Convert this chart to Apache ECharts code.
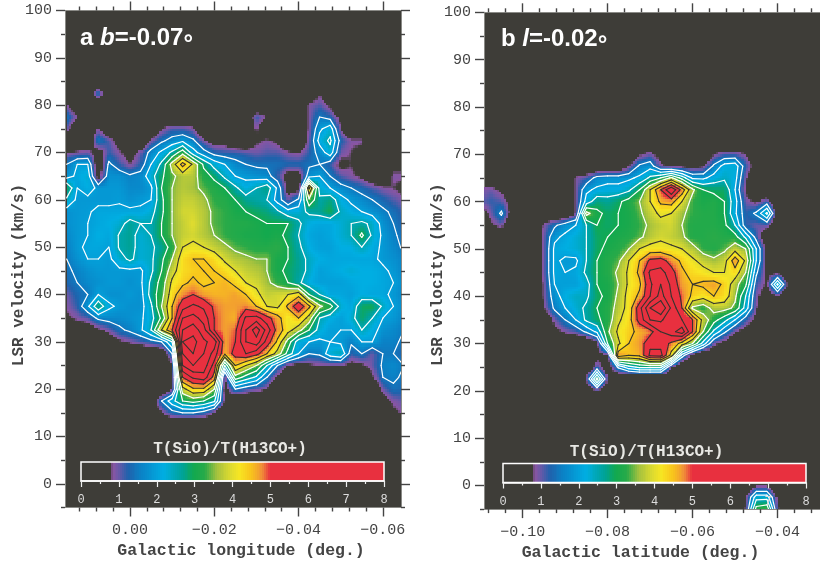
<!DOCTYPE html>
<html><head><meta charset="utf-8">
<style>html,body{margin:0;padding:0;background:#fff}#c{width:820px;height:566px}</style>
<script src="https://cdn.jsdelivr.net/npm/echarts@6/dist/echarts.min.js"></script>
</head><body><div id="c"></div>
<script>
const longitudeA=[0.015,0.0125,0.01,0.0075,0.005,0.0025,0,-0.0025,-0.005,-0.0075,-0.01,-0.0125,-0.015,-0.0175,-0.02,-0.0225,-0.025,-0.0275,-0.03,-0.0325,-0.035,-0.0375,-0.04,-0.0425,-0.045,-0.0475,-0.05,-0.0525,-0.055,-0.0575,-0.06,-0.0625,-0.065];
const velocityA=[85,82.5,80,77.5,75,72.5,70,67.5,65,62.5,60,57.5,55,52.5,50,47.5,45,42.5,40,37.5,35,32.5,30,27.5,25,22.5,20,17.5,15,12.5];
const ratioA=[
[],
[0,0,0,1.45,0,0,0,0,0,0,0,0,0,0,0,0,0,0,0,0,0,0,0,0,.8],
[.9,0,0,0,0,0,0,0,0,0,0,0,0,0,0,0,0,0,0,0,0,0,0,.9,1.1,.7],
[1.45,.9,0,0,0,0,0,0,0,0,0,0,0,0,0,0,0,0,1.2,.8,0,0,0,.9,1.5,1.3,.6],
[1.1,0,0,.9,0,0,0,0,0,.8,1.1,1.1,.9,0,0,0,0,0,.9,0,0,0,0,.9,1.9,2.3,.8],
[0,0,0,1.5,1.1,.5,0,0,.9,1.4,1.7,1.9,1.6,.9,.5,.5,0,0,.7,.9,.7,0,0,1.0,2.2,2.6,1.3,.9,.9],
[.8,.9,1.0,.5,1.2,.9,.5,1.0,1.7,2.1,2.6,3.3,2.2,1.7,1.3,1.2,1.2,1.1,1.0,1.1,1.1,.9,.8,1.2,1.7,2.3,1.0,.8,.6],
[1.5,2.0,2.0,.3,1.6,1.2,.8,1.2,2.0,2.6,3.7,4.7,3.9,2.9,2.3,2.0,1.7,1.5,1.4,1.4,1.4,1.3,1.3,1.4,1.5,1.2,.6,.8,.5,0,0,.6,.6],
[1.8,2.1,2.3,.5,1.8,1.8,1.6,1.7,2.3,2.9,3.4,3.7,3.7,3.2,2.9,2.4,2.0,1.9,1.8,1.7,1.2,.5,.5,1.8,2.0,1.5,1.1,.9,.7,.3,0,.9,.9],
[3.0,2.0,2.2,1.9,1.9,1.9,1.7,1.7,1.9,3.0,3.5,3.7,3.6,3.4,3.2,3.0,2.6,2.2,2.5,2.8,1.9,.5,.5,4.6,2.3,2.0,1.7,1.5,1.3,1.1,.9,.8,.6],
[2.4,1.9,1.9,1.9,1.9,1.95,1.8,1.9,2.0,2.9,3.5,3.8,3.8,3.6,3.3,3.2,3.0,2.7,2.6,2.5,1.8,1.0,1.6,3.4,2.6,2.8,2.2,1.9,1.7,1.5,1.3,1.1,.9],
[1.8,1.9,1.95,2.1,2.1,2.1,2.1,2.1,2.3,2.9,3.5,3.9,3.9,3.7,3.4,3.3,3.1,3.0,2.9,2.8,2.6,2.2,2.3,2.6,2.7,3.0,2.4,2.2,2.0,1.8,1.6,1.4,1.1],
[1.8,1.9,2.0,2.1,2.2,2.3,2.7,2.5,2.5,3.0,3.5,3.8,4.0,3.7,3.4,3.3,3.2,3.2,3.1,3.0,3.0,3.0,2.6,2.2,2.1,2.1,2.3,2.5,2.6,2.4,1.8,1.5,1.2],
[1.7,1.9,2.0,2.2,2.1,2.55,2.7,2.3,2.5,3.0,3.5,3.8,3.9,3.7,3.5,3.3,3.2,3.1,3.1,3.0,3.1,2.9,2.5,2.1,2.0,2.1,2.3,2.5,3.1,2.4,1.9,1.6,1.3],
[1.6,1.9,2.1,2.1,2.0,2.55,2.7,2.3,2.4,2.7,3.2,4.0,4.1,4.0,3.8,3.6,3.4,3.3,3.2,3.2,3.3,3.0,2.6,2.2,2.0,2.0,2.2,2.2,2.5,2.2,1.9,1.7,1.4],
[1.5,1.8,2.0,2.0,1.9,2.3,2.6,2.3,2.4,2.9,3.5,4.3,4.5,4.5,4.3,3.9,3.7,3.6,3.5,3.5,3.1,3.0,2.7,2.4,2.2,2.1,2.1,2.1,2.1,2.1,1.9,1.8,1.6],
[1.4,1.6,1.8,1.9,1.9,1.9,1.9,1.9,2.4,3.0,3.8,4.3,4.4,4.5,4.5,4.3,4.0,3.8,3.7,3.5,3.1,2.9,2.7,2.4,2.0,2.1,2.2,2.3,2.2,2.2,2.1,1.9,1.6],
[1.3,1.5,1.7,1.8,1.9,1.9,1.8,1.9,2.6,3.2,4.1,4.4,4.6,4.4,4.5,4.6,4.4,4.0,3.9,3.6,3.3,3.0,2.6,2.2,2.0,2.0,2.0,2.1,2.2,2.2,2.1,2.0,1.7],
[1.0,1.3,1.5,2.0,1.8,1.8,1.9,1.8,2.7,3.3,4.3,4.8,5.0,4.7,4.6,4.6,4.7,4.5,4.1,3.8,3.9,4.0,4.3,3.0,2.5,2.1,2.1,2.0,2.2,2.1,2.1,1.9,1.6],
[.9,1.2,1.9,2.9,2.1,1.9,1.8,1.8,2.4,3.5,4.5,5.3,5.6,5.4,4.9,4.7,4.7,4.8,4.5,4.0,3.9,4.6,5.4,4.6,3.6,3.2,2.3,2.1,2.9,3.0,2.4,2.0,1.7],
[.7,.9,1.1,1.6,1.7,1.7,1.8,1.9,2.3,3.1,4.5,6.0,6.2,5.8,5.0,4.7,4.6,5.6,5.7,5.2,4.7,4.1,4.5,3.8,2.5,2.2,2.0,2.3,2.9,2.5,2.0,1.9,1.6],
[.3,.3,.3,.7,1.0,1.4,1.6,1.9,2.5,4.0,5.0,6.5,6.8,6.2,5.0,4.7,4.9,6.0,6.8,5.8,4.8,4.2,3.7,3.0,2.3,2.0,2.0,2.0,2.5,2.2,1.8,1.7,1.5],
[0,0,0,0,.3,.7,.9,1.1,1.3,1.5,2.5,7.0,7.2,6.6,6.3,4.7,5.0,6.0,6.3,5.3,4.4,3.3,2.2,2.0,1.9,2.0,1.9,1.6,2.0,2.0,1.6,1.6,1.4],
[0,0,0,0,0,0,0,0,0,.2,1.5,6.5,7.0,6.5,5.8,4.6,5.2,5.5,5.2,4.5,3.8,2.8,2.0,1.5,1.6,2.3,2.5,1.2,1.5,1.0,1.5,1.5,1.2],
[0,0,0,0,0,0,0,0,0,0,.7,6.0,6.5,6.3,5.3,2.5,4.5,4.0,3.5,2.5,1.5,.7,.6,.7,.8,.8,.8,.6,.7,1.0,1.6,1.7,1.5],
[0,0,0,0,0,0,0,0,0,0,.6,5.0,5.6,5.8,4.8,.7,3.3,2.8,2.4,1.5,.7,0,0,0,0,0,0,0,0,.7,1.5,1.6,1.4],
[0,0,0,0,0,0,0,0,0,0,.8,3.8,4.4,4.4,3.5,.5,1.5,1.2,1.0,.8,0,0,0,0,0,0,0,0,0,0,1.0,1.4,1.3],
[0,0,0,0,0,0,0,0,0,1.5,2.3,3.0,3.2,3.0,2.6,.7,0,0,0,0,0,0,0,0,0,0,0,0,0,0,.5,.9,1.1],
[0,0,0,0,0,0,0,0,0,.8,1.3,1.5,1.5,1.3,.8,0,0,0,0,0,0,0,0,0,0,0,0,0,0,0,0,.7,.9],
[]
];
const latitudeB=[-0.11,-0.1075,-0.105,-0.1025,-0.1,-0.0975,-0.095,-0.0925,-0.09,-0.0875,-0.085,-0.0825,-0.08,-0.0775,-0.075,-0.0725,-0.07,-0.0675,-0.065,-0.0625,-0.06,-0.0575,-0.055,-0.0525,-0.05,-0.0475,-0.045,-0.0425,-0.04,-0.0375,-0.035,-0.0325,-0.03];
const velocityB=[72.5,70,67.5,65,62.5,60,57.5,55,52.5,50,47.5,45,42.5,40,37.5,35,32.5,30,27.5,25,22.5,20,17.5,15,12.5,10,7.5,5,2.5,0,-2.5,-5];
const ratioB=[
[0,0,0,0,0,0,0,0,0,0,0,0,0,0,0,.5],
[0,0,0,0,0,0,0,0,0,0,0,0,0,0,0,.7,1.0,.5,0,0,0,0,.8,1.1,1.1,.8],
[0,0,0,0,0,0,0,0,0,0,0,0,0,0,.8,1.6,1.8,.9,.7,.6,.6,.7,1.6,2.2,2.3,1.2,.5],
[0,0,0,0,0,0,0,0,0,.9,1.1,1.7,1.8,1.8,1.9,2.1,2.6,3.0,3.6,2.8,1.9,1.9,2.2,2.4,2.2,.9],
[.9,1.0,.7,0,0,0,0,0,0,.9,1.9,2.1,2.2,2.2,2.4,3.0,4.0,5.0,6.0,4.8,3.6,3.0,2.9,2.9,2.0,.7],
[1.0,1.2,1.1,.5,0,0,0,0,0,.9,2.2,2.8,2.7,2.9,3.2,3.5,4.0,4.6,4.7,4.0,3.3,3.1,3.2,3.0,2.2,1.0,.7,1.2],
[.4,1.0,1.6,.5,0,0,0,0,0,.9,3.7,3.1,2.9,3.0,3.1,3.4,3.8,4.1,4.0,3.6,3.3,3.2,3.2,3.0,2.1,1.2,1.6,2.6,.6],
[0,.7,1.0,0,0,0,.9,1.4,1.8,2.0,2.5,3.0,2.9,3.0,3.1,3.3,3.6,3.8,3.9,3.5,3.2,3.2,3.2,3.1,2.5,1.2,1.0,1.1],
[0,0,0,0,0,0,1.0,1.9,2.1,2.3,2.5,2.9,3.0,3.1,3.2,3.4,3.7,3.9,3.8,3.6,3.2,3.2,3.3,3.2,3.2,2.4,1.3],
[0,0,0,0,0,0,1.0,2.1,2.2,2.3,2.5,2.9,3.1,3.2,3.5,4.0,4.2,4.2,4.1,4.0,3.7,3.3,3.2,3.4,3.8,3.5,2.0,.6],
[0,0,0,0,0,0,1.0,2.1,1.9,1.9,2.5,3.0,3.2,3.4,4.0,4.5,5.1,5.2,4.8,4.4,4.1,3.8,3.6,3.8,4.8,3.9,2.0,.6],
[0,0,0,0,0,0,1.0,2.1,2.0,2.1,2.6,3.0,3.2,3.6,4.1,4.6,5.6,5.7,5.2,4.6,4.3,4.2,4.0,4.0,4.3,3.5,1.6,.6,.7],
[0,0,0,0,0,0,.9,2.0,2.0,2.0,2.3,3.0,3.1,3.5,4.1,4.4,5.4,6.0,5.4,4.7,4.5,4.6,4.7,4.4,3.7,3.1,1.2,.7,2.6,.7],
[0,0,0,0,0,0,.9,1.8,2.2,2.4,2.4,2.9,3.1,3.6,4.2,4.6,5.5,6.2,5.5,4.9,4.4,4.2,4.5,4.3,3.6,2.5,1.0,.3,.8],
[0,0,0,0,0,0,.8,1.6,2.0,2.3,2.6,3.0,3.2,3.7,4.2,5.3,6.5,7.0,5.9,5.0,3.4,3.2,3.7,3.7,3.4,2.3,.9],
[0,0,0,0,0,0,0,1.0,1.5,2.0,2.6,2.9,3.2,3.9,4.3,5.2,6.0,6.1,5.6,5.5,5.0,3.8,3.2,2.7,2.0,1.2,.6],
[0,0,0,0,0,0,0,.6,.9,1.1,1.6,2.1,3.4,4.1,4.4,4.6,4.8,5.5,5.8,6.3,5.0,3.5,2.4,1.6,.9,.5],
[0,0,0,0,0,0,0,0,0,0,0,.7,3.0,3.9,4.5,4.7,5.4,5.3,4.9,4.3,3.5,2.3,1.0,.6],
[0,0,0,0,0,0,0,0,0,0,0,.5,.8,4.8,4.5,4.6,5.6,5.7,4.3,1.8,.6],
[0,0,0,0,0,0,0,0,0,0,0,1.2,.3,1.6,2.3,2.6,2.6,2.6,.9],
[0,0,0,0,0,0,0,0,0,0,.9,3.2,.9],
[0,0,0,0,0,0,0,0,0,0,0,.9],
[],[],[],[],[],[],[],
[0,0,0,0,0,0,0,0,0,0,0,0,0,0,0,0,0,0,0,0,0,0,0,0,0,0,.7,.7],
[0,0,0,0,0,0,0,0,0,0,0,0,0,0,0,0,0,0,0,0,0,0,0,0,0,.8,2.3,2.3,.7],
[0,0,0,0,0,0,0,0,0,0,0,0,0,0,0,0,0,0,0,0,0,0,0,0,0,.9,3.2,3.4,.9]
];
const velocityTicks=[0,10,20,30,40,50,60,70,80,90,100];
const velocityMinor=[-5,5,15,25,35,45,55,65,75,85,95];
const longitudeTicks=[0,-0.02,-0.04,-0.06];
const longitudeMinor=[0.012,0.008,0.004,-0.004,-0.008,-0.012,-0.016,-0.024,-0.028,-0.032,-0.036,-0.044,-0.048,-0.052,-0.056];
const latitudeTicks=[-0.1,-0.08,-0.06,-0.04];
const latitudeMinor=[-0.108,-0.104,-0.096,-0.092,-0.088,-0.084,-0.076,-0.072,-0.068,-0.064,-0.056,-0.052,-0.048,-0.044,-0.036,-0.032];
const colourStops=[[0,'#3e3d38'],[0.78,'#3e3d38'],[0.84,'#8a55a2'],[1.0,'#6f58a8'],[1.25,'#1f62ac'],[1.6,'#0a82c6'],[2.2,'#00aee2'],[2.7,'#00a295'],[3.0,'#12a94e'],[3.3,'#2aaa48'],[3.6,'#a6c23e'],[4.0,'#e2dd2e'],[4.2,'#f8e622'],[4.5,'#f8c41c'],[4.8,'#f08f38'],[5.0,'#e8303f'],[8,'#e8303f']];
const whiteLevels=[1.5,2,2.5,3,3.5];
const blackLevels=[4,4.5,5,5.5,6,6.5,7,7.5];
const barLevels=[];for(let k=0;k<160;k++)barLevels.push(k/20);
const PANEL='#3e3d38',INK='#444',MONO='"Liberation Mono",monospace';

const rgb=colourStops.map(s=>[s[0],parseInt(s[1].slice(1,3),16),parseInt(s[1].slice(3,5),16),parseInt(s[1].slice(5,7),16)]);
function colour(v){
  if(v<=0)v=0;if(v>=8)v=7.999;
  let k=0;while(k<rgb.length-2&&v>rgb[k+1][0])k++;
  const a=rgb[k],b=rgb[k+1],t=(v-a[0])/(b[0]-a[0]);
  return 'rgb('+Math.round(a[1]+(b[1]-a[1])*t)+','+Math.round(a[2]+(b[2]-a[2])*t)+','+Math.round(a[3]+(b[3]-a[3])*t)+')';
}
function cellList(xs,ys,rows){
  const out=[];const val=(i,j)=>(rows[j]&&rows[j][i])||0;
  for(let j=0;j<ys.length-1;j++)for(let i=0;i<xs.length-1;i++){
    if(val(i,j)||val(i+1,j)||val(i,j+1)||val(i+1,j+1))out.push([i,j]);
  }
  return out;
}
const SUB=5;
function fillRenderer(xs,ys,rows){
  const val=(i,j)=>(rows[j]&&rows[j][i])||0;
  return function(params,api){
    const i=api.value(0),j=api.value(1);
    const p=api.coord([xs[i],ys[j]]),q=api.coord([xs[i+1],ys[j+1]]);
    const a=val(i,j),b=val(i+1,j),c=val(i,j+1),d=val(i+1,j+1);
    const children=[];
    for(let m=0;m<SUB;m++)for(let n=0;n<SUB;n++){
      const u=(n+.5)/SUB,w=(m+.5)/SUB;
      const v=(a*(1-u)+b*u)*(1-w)+(c*(1-u)+d*u)*w;
      if(v<0.78)continue;
      const x0=Math.round(p[0]+(q[0]-p[0])*n/SUB),x1=Math.round(p[0]+(q[0]-p[0])*(n+1)/SUB);
      const y0=Math.round(p[1]+(q[1]-p[1])*m/SUB),y1=Math.round(p[1]+(q[1]-p[1])*(m+1)/SUB);
      children.push({type:'rect',shape:{x:Math.min(x0,x1),y:Math.min(y0,y1),width:Math.abs(x1-x0),height:Math.abs(y1-y0)},style:{fill:colour(v)}});
    }
    return {type:'group',children};
  };
}
function contourRenderer(xs,ys,rows){
  const val=(i,j)=>(rows[j]&&rows[j][i])||0;
  return function(params,api){
    const i=api.value(0),j=api.value(1);
    const p=api.coord([xs[i],ys[j]]),q=api.coord([xs[i+1],ys[j+1]]);
    const a=val(i,j),b=val(i+1,j),c=val(i,j+1),d=val(i+1,j+1);
    const children=[];
    const lv=(L,col,w)=>{
      const pts=[];
      const cross=(s,t,f)=>((s<L)!==(t<L))?f((L-s)/(t-s)):null;
      const top=cross(a,b,t=>[p[0]+(q[0]-p[0])*t,p[1]]);
      const right=cross(b,d,t=>[q[0],p[1]+(q[1]-p[1])*t]);
      const bot=cross(c,d,t=>[p[0]+(q[0]-p[0])*t,q[1]]);
      const left=cross(a,c,t=>[p[0],p[1]+(q[1]-p[1])*t]);
      [top,right,bot,left].forEach(e=>{if(e)pts.push(e);});
      const seg=(m,n)=>children.push({type:'line',shape:{x1:m[0],y1:m[1],x2:n[0],y2:n[1]},style:{stroke:col,lineWidth:w,lineCap:'round'}});
      if(pts.length===2)seg(pts[0],pts[1]);
      else if(pts.length===4){
        const mean=(a+b+c+d)/4;
        if((mean<L)===(a<L)){seg(top,right);seg(bot,left);}else{seg(top,left);seg(right,bot);}
      }
    };
    whiteLevels.forEach(L=>lv(L,'#ffffff',1.2));
    blackLevels.forEach(L=>lv(L,'#35342f',1.1));
    return children.length?{type:'group',children}:null;
  };
}
function fieldSeries(g,xi,yi,xs,ys,rows){
  const data=cellList(xs,ys,rows);
  return [
    {type:'custom',xAxisIndex:xi,yAxisIndex:yi,clip:true,silent:true,z:2,data,encode:{x:0,y:1},renderItem:fillRenderer(xs,ys,rows)},
    {type:'custom',xAxisIndex:xi,yAxisIndex:yi,clip:true,silent:true,z:3,data,encode:{x:0,y:1},renderItem:contourRenderer(xs,ys,rows)}
  ];
}
function barSeries(xi,yi){
  return {type:'custom',xAxisIndex:xi,yAxisIndex:yi,silent:true,z:7,data:barLevels.map(v=>[v]),encode:{x:0},
    renderItem(params,api){
      const v=api.value(0);
      const p=api.coord([v,1]),q=api.coord([v+0.05,0]);
      return {type:'rect',shape:{x:Math.floor(p[0]),y:p[1],width:Math.ceil(q[0])-Math.floor(p[0]),height:q[1]-p[1]},style:{fill:colour(v+0.025)}};
    }};
}
const line={show:true,onZero:false,lineStyle:{color:'#8a8a86',width:1}};
const fmtLat=v=>v===0?'0.00':'\u2212'+Math.abs(v).toFixed(2);
function xAxesFor(g,min,max,inverse,major,minor,name,pad){
  const base={type:'value',gridIndex:g,min,max,inverse,splitLine:{show:false},axisLine:{...line}};
  const lab={show:true,customValues:major,formatter:fmtLat,fontFamily:MONO,fontSize:15,color:INK,margin:15,hideOverlap:false,showMinLabel:true,showMaxLabel:true};
  const tk=(vals,len)=>({show:true,customValues:vals,length:len,lineStyle:{color:INK,width:1.4}});
  return [
    {...base,position:'bottom',axisLabel:lab,axisTick:tk(major,9),name,nameLocation:'middle',nameGap:34,nameTextStyle:{fontFamily:MONO,fontWeight:'bold',fontSize:16.5,color:INK,padding:pad}},
    {...base,position:'bottom',axisLabel:{show:false},axisTick:tk(minor,4)},
    {...base,position:'top',axisLabel:{show:false},axisTick:tk(major,9)},
    {...base,position:'top',axisLabel:{show:false},axisTick:tk(minor,4)}
  ];
}
function yAxesFor(g,pad,gap){
  const base={type:'value',gridIndex:g,min:-5,max:100,splitLine:{show:false},axisLine:{...line}};
  const tk=(vals,len)=>({show:true,customValues:vals,length:len,lineStyle:{color:INK,width:1.4}});
  return [
    {...base,position:'left',axisTick:tk(velocityTicks,9),axisLabel:{show:true,customValues:velocityTicks,fontFamily:MONO,fontSize:15,color:INK,margin:13},name:'LSR velocity (km/s)',nameLocation:'middle',nameGap:gap,nameRotate:90,nameMoveOverlap:false,nameTextStyle:{fontFamily:MONO,fontWeight:'bold',fontSize:16,color:INK,padding:pad}},
    {...base,position:'left',axisTick:tk(velocityMinor,4),axisLabel:{show:false}},
    {...base,position:'right',axisTick:tk(velocityTicks,9),axisLabel:{show:false}},
    {...base,position:'right',axisTick:tk(velocityMinor,4),axisLabel:{show:false}}
  ];
}
function barX(g){
  return {type:'value',gridIndex:g,min:0,max:8,interval:1,position:'bottom',z:8,splitLine:{show:false},
    axisLine:{show:true,onZero:false,lineStyle:{color:'#fff',width:1.5}},
    axisTick:{show:true,length:6,lineStyle:{color:'#eee',width:1.2}},
    minorTick:{show:true,splitNumber:2,length:3,lineStyle:{color:'#eee',width:1.2}},
    axisLabel:{fontFamily:MONO,fontSize:12,color:'#ddd',margin:13}};
}
const barY=g=>({type:'value',gridIndex:g,min:0,max:1,show:false});
const rich={
  a:{fontFamily:'"Liberation Sans"',fontWeight:'bold',fontSize:24,color:'#fff'},
  b:{fontFamily:'"Liberation Sans"',fontWeight:'bold',fontStyle:'italic',fontSize:24,color:'#fff'},
  d:{fontFamily:'"Liberation Sans"',fontWeight:'bold',fontSize:24,color:'#fff',padding:[12,0,0,0]}
};
const barTitle=(x,y)=>({text:'T(SiO)/T(H13CO+)',left:x,top:y,textAlign:'center',z:9,padding:0,textStyle:{fontFamily:MONO,fontWeight:'bold',fontSize:16,color:'#e8e8e4'}});
const option={
  animation:false,
  backgroundColor:'#ffffff',
  title:[
    {text:'{a|a }{b|b}{a|=-0.07}{d|\u00b0}',left:80,top:20,padding:0,z:9,textStyle:{rich}},
    {text:'{a|b }{b|l}{a|=-0.02}{d|\u00b0}',left:501,top:21,padding:0,z:9,textStyle:{rich}},
    barTitle(230,441),barTitle(646.5,444)
  ],
  grid:[
    {left:65,top:10.5,width:336,height:497,show:true,backgroundColor:PANEL,borderWidth:0},
    {left:484,top:12.3,width:336,height:497.4,show:true,backgroundColor:PANEL,borderWidth:0},
    {left:81,top:462,width:303,height:19,show:true,backgroundColor:'transparent',borderColor:'#fff',borderWidth:1.5,z:8},
    {left:503,top:463.5,width:303,height:19,show:true,backgroundColor:'transparent',borderColor:'#fff',borderWidth:1.5,z:8}
  ],
  xAxis:[
    ...xAxesFor(0,-0.0643,0.0154,true,longitudeTicks,longitudeMinor,'Galactic longitude (deg.)',[0,0,0,16]),
    ...xAxesFor(1,-0.1091,-0.03,false,latitudeTicks,latitudeMinor,'Galactic latitude (deg.)',[0,23,0,0]),
    barX(2),barX(3)
  ],
  yAxis:[
    ...yAxesFor(0,[0,32,0,0],38),
    ...yAxesFor(1,[0,28,0,0],38),
    barY(2),barY(3)
  ],
  series:[
    ...fieldSeries(0,0,0,longitudeA,velocityA,ratioA),
    ...fieldSeries(1,4,4,latitudeB,velocityB,ratioB),
    barSeries(8,8),barSeries(9,9)
  ]
};
const chart=echarts.init(document.getElementById('c'),null,{renderer:'canvas'});
chart.setOption(option);
</script></body></html>
